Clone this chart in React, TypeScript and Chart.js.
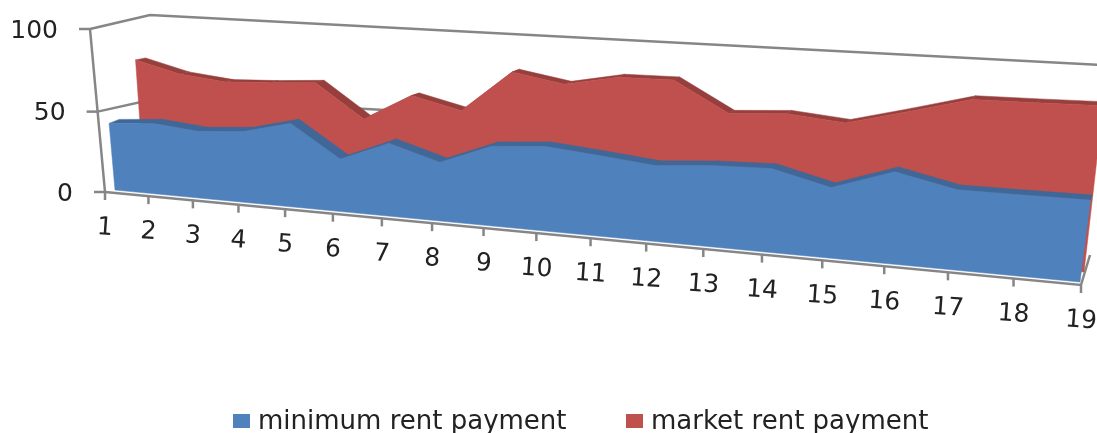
import React, { useEffect, useRef } from "react";
import { Chart, registerables } from "chart.js";

Chart.register(...registerables);

const categories = ["1","2","3","4","5","6","7","8","9","10","11","12","13","14","15","16","17","18","19"];
const minimumRent = [43,45.2,42.4,44.6,51.7,32.3,44.2,35.3,47.1,49.4,46.6,43.4,45.8,46.7,38.9,50,43,43,43.1];
const marketRent = [77.5,70.5,67.6,68.9,71,51.1,67.3,60.5,85,80,85.9,86.3,69.8,71.9,69.2,77.4,86,86.4,87];
const valueTicks = [0, 50, 100];

type Pt = [number, number];
type Quad = { bl: Pt; br: Pt; tr: Pt; tl: Pt };

function homography(q: Quad) {
  const [x0, y0] = q.bl, [x1, y1] = q.br, [x2, y2] = q.tr, [x3, y3] = q.tl;
  const dx1 = x1 - x2, dx2 = x3 - x2, sx = x0 - x1 + x2 - x3;
  const dy1 = y1 - y2, dy2 = y3 - y2, sy = y0 - y1 + y2 - y3;
  const den = dx1 * dy2 - dx2 * dy1;
  const g = (sx * dy2 - dx2 * sy) / den;
  const h = (dx1 * sy - sx * dy1) / den;
  const a = x1 - x0 + g * x1, b = x3 - x0 + h * x3;
  const d = y1 - y0 + g * y1, e = y3 - y0 + h * y3;
  return (u: number, v: number): Pt => {
    const w = g * u + h * v + 1;
    return [(a * u + b * v + x0) / w, (d * u + e * v + y0) / w];
  };
}

const axisPlane = homography({ bl: [105, 192], br: [1081, 285], tr: [1097, 81], tl: [90, 29] });
const faces = [
  {
    front: homography({ bl: [115, 190], br: [1080, 282], tr: [1105, 87], tl: [101, 32] }),
    back: homography({ bl: [125, 186], br: [1082, 277], tr: [1107, 82], tl: [111, 28] }),
    dark: "#3F6797",
  },
  {
    front: homography({ bl: [144, 180], br: [1084, 272], tr: [1106, 80], tl: [133, 24] }),
    back: homography({ bl: [154, 178], br: [1087, 268], tr: [1109, 76], tl: [143, 22] }),
    dark: "#973F3C",
  },
];

const GREY = "#868686";
const INK = "#222222";

function line(ctx: CanvasRenderingContext2D, pts: Pt[], width = 2.5) {
  ctx.strokeStyle = GREY;
  ctx.lineWidth = width;
  ctx.beginPath();
  pts.forEach((p, i) => (i ? ctx.lineTo(p[0], p[1]) : ctx.moveTo(p[0], p[1])));
  ctx.stroke();
}

function poly(ctx: CanvasRenderingContext2D, pts: Pt[], fill: string) {
  ctx.fillStyle = fill;
  ctx.strokeStyle = fill;
  ctx.lineWidth = 0.5;
  ctx.beginPath();
  pts.forEach((p, i) => (i ? ctx.lineTo(p[0], p[1]) : ctx.moveTo(p[0], p[1])));
  ctx.closePath();
  ctx.fill();
  ctx.stroke();
}

const projectedArea = {
  id: "projectedArea",
  beforeDatasetsDraw(chart: any) {
    const ctx: CanvasRenderingContext2D = chart.ctx;
    const xs = chart.scales.x, ys = chart.scales.y;
    const U = (i: number) => (xs.getPixelForValue(i) - xs.left) / (xs.right - xs.left);
    const V = (t: number) => (ys.bottom - ys.getPixelForValue(t)) / (ys.bottom - ys.top);
    ctx.save();
    // back wall and side wall rules
    line(ctx, [axisPlane(0, V(100)), [150, 15], [1100, 65]]);
    line(ctx, [axisPlane(0, V(50)), [159, 98], [1100, 148]]);
    // value axis
    line(ctx, [axisPlane(0, V(100)), axisPlane(0, V(0))]);
    line(ctx, [axisPlane(0, V(0)), axisPlane(1, V(0)), [1090, 255]]);
    ctx.fillStyle = INK;
    ctx.font = "25px 'DejaVu Sans'";
    ctx.textAlign = "right";
    ctx.textBaseline = "middle";
    valueTicks.forEach((t) => {
      const p = axisPlane(0, V(t));
      line(ctx, [[p[0] - 11, p[1]], p]);
      ctx.fillStyle = INK;
      ctx.fillText(String(t), p[0] - 32, p[1] + 2);
    });
    categories.forEach((c, i) => {
      const p = axisPlane(U(i), 0);
      line(ctx, [p, [p[0], p[1] + 8]]);
      ctx.save();
      ctx.translate(p[0], p[1] + 36);
      ctx.rotate(0.07);
      ctx.textAlign = "center";
      ctx.fillStyle = INK;
      ctx.fillText(c, 0, 0);
      ctx.restore();
    });
    ctx.restore();
  },
  beforeDatasetDraw(chart: any, args: any) {
    const ctx: CanvasRenderingContext2D = chart.ctx;
    const area = chart.chartArea;
    const face = faces[args.index];
    const uv = args.meta.data.map((el: any): Pt => [
      (el.x - area.left) / (area.right - area.left),
      (area.bottom - el.y) / (area.bottom - area.top),
    ]);
    const front: Pt[] = uv.map((p: Pt) => face.front(p[0], p[1]));
    const back: Pt[] = uv.map((p: Pt) => face.back(p[0], p[1]));
    ctx.save();
    for (let i = 0; i + 1 < front.length; i++) {
      poly(ctx, [front[i], front[i + 1], back[i + 1], back[i]], face.dark);
    }
    poly(
      ctx,
      [face.front(0, 0), ...front, face.front(1, 0)],
      chart.data.datasets[args.index].backgroundColor
    );
    ctx.restore();
    return false;
  },
  afterDatasetsDraw(chart: any) {
    const ctx: CanvasRenderingContext2D = chart.ctx;
    const xs = [233, 626];
    const textX = [258, 651];
    ctx.save();
    ctx.font = "26px 'DejaVu Sans'";
    ctx.textAlign = "left";
    ctx.textBaseline = "alphabetic";
    chart.data.datasets.forEach((ds: any, i: number) => {
      ctx.fillStyle = ds.backgroundColor;
      ctx.fillRect(xs[i], 414, 17, 14);
      ctx.fillStyle = INK;
      ctx.fillText(ds.label, textX[i], 429);
    });
    ctx.restore();
  },
};

export default function App() {
  const ref = useRef<HTMLCanvasElement>(null);
  useEffect(() => {
    const chart = new Chart(ref.current as HTMLCanvasElement, {
      type: "line",
      data: {
        labels: categories,
        datasets: [
          { label: "minimum rent payment", data: minimumRent, backgroundColor: "#4F81BD", borderColor: "#4F81BD", pointRadius: 0 },
          { label: "market rent payment", data: marketRent, backgroundColor: "#C0504D", borderColor: "#C0504D", pointRadius: 0 },
        ],
      },
      options: {
        animation: false,
        responsive: false,
        layout: { padding: 0 },
        plugins: { legend: { display: false }, tooltip: { enabled: false } },
        scales: {
          x: { type: "category", display: false },
          y: { type: "linear", display: false, min: 0, max: 100 },
        },
      },
      plugins: [projectedArea],
    } as any);
    return () => chart.destroy();
  }, []);
  return (
    <div style={{ position: "fixed", left: 0, top: 0, width: 1097, height: 433, overflow: "hidden", background: "#fff" }}>
      <canvas ref={ref} width={1097} height={433} style={{ display: "block" }} />
    </div>
  );
}
